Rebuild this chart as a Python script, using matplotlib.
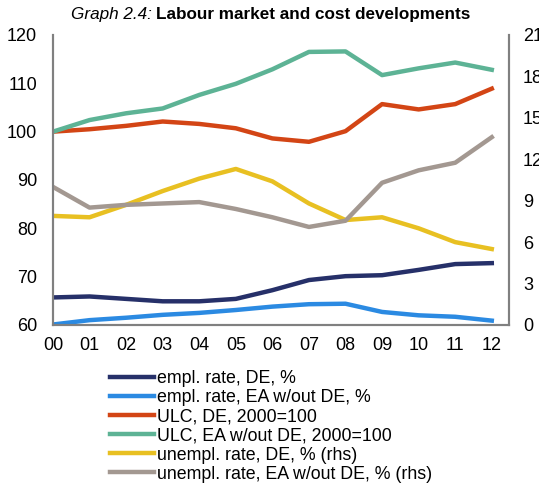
import matplotlib
matplotlib.use('Agg')
import matplotlib.pyplot as plt

plt.rcParams['font.family'] = ['Liberation Sans', 'DejaVu Sans']

years = ['00', '01', '02', '03', '04', '05', '06', '07', '08', '09', '10', '11', '12']

# left axis series
empl_de = [65.7, 65.9, 65.4, 64.9, 64.9, 65.4, 67.2, 69.3, 70.1, 70.3, 71.4, 72.6, 72.8]
empl_ea = [60.1, 61.0, 61.5, 62.1, 62.5, 63.1, 63.8, 64.3, 64.4, 62.7, 62.0, 61.7, 60.9]
ulc_de = [100.0, 100.5, 101.2, 102.1, 101.6, 100.7, 98.6, 97.9, 100.1, 105.7, 104.6, 105.7, 108.9]
ulc_ea = [100.0, 102.4, 103.8, 104.8, 107.6, 109.9, 112.9, 116.5, 116.6, 111.7, 113.1, 114.3, 112.8]

# right axis series
unempl_de = [7.9, 7.8, 8.7, 9.7, 10.6, 11.3, 10.4, 8.8, 7.6, 7.8, 7.0, 6.0, 5.5]
unempl_ea = [10.0, 8.5, 8.7, 8.8, 8.9, 8.4, 7.8, 7.1, 7.55, 10.3, 11.2, 11.75, 13.6]

x = list(range(len(years)))

fig = plt.figure(figsize=(5.39, 4.86), dpi=100)
ax = fig.add_axes([0.0983, 0.3313, 0.846, 0.5967])
ax2 = ax.twinx()

lw = 3.2
l1, = ax.plot(x, empl_de, color='#263069', lw=lw, label='empl. rate, DE, %')
l2, = ax.plot(x, empl_ea, color='#2b8ae2', lw=lw, label='empl. rate, EA w/out DE, %')
l3, = ax.plot(x, ulc_de, color='#d34515', lw=lw, label='ULC, DE, 2000=100')
l4, = ax.plot(x, ulc_ea, color='#5db395', lw=lw, label='ULC, EA w/out DE, 2000=100')
l5, = ax2.plot(x, unempl_de, color='#e8c022', lw=lw, label='unempl. rate, DE, % (rhs)')
l6, = ax2.plot(x, unempl_ea, color='#a39891', lw=lw, label='unempl. rate, EA w/out DE, % (rhs)')

ax.set_xlim(0, 12.47)
ax.set_ylim(60, 120)
ax.set_yticks(range(60, 121, 10))
ax2.set_ylim(0, 21)
ax2.set_yticks(range(0, 22, 3))
ax.set_xticks(x)
ax.set_xticklabels(years)

for a in (ax, ax2):
    for s in a.spines.values():
        s.set_color('#808080')
        s.set_linewidth(1.5)
    a.spines['top'].set_visible(False)
    a.tick_params(length=0, labelsize=13)
ax.tick_params(axis='y', pad=11.5)
ax.tick_params(axis='x', pad=9)
ax2.tick_params(axis='y', pad=10)

fig.text(152 / 539, 0.971, 'Graph 2.4:', style='italic', ha='right', va='center', fontsize=12.3)
fig.text(156 / 539, 0.971, 'Labour market and cost developments', fontweight='bold',
         ha='left', va='center', fontsize=12.3)

fig.legend(handles=[l1, l2, l3, l4, l5, l6], loc='upper left',
           bbox_to_anchor=(110 / 539, 1 - 370 / 486), frameon=False,
           fontsize=12.8, handlelength=2.5, handletextpad=0.15,
           labelspacing=0.12, borderaxespad=0, borderpad=0)

fig.savefig('out.png', dpi=100)
